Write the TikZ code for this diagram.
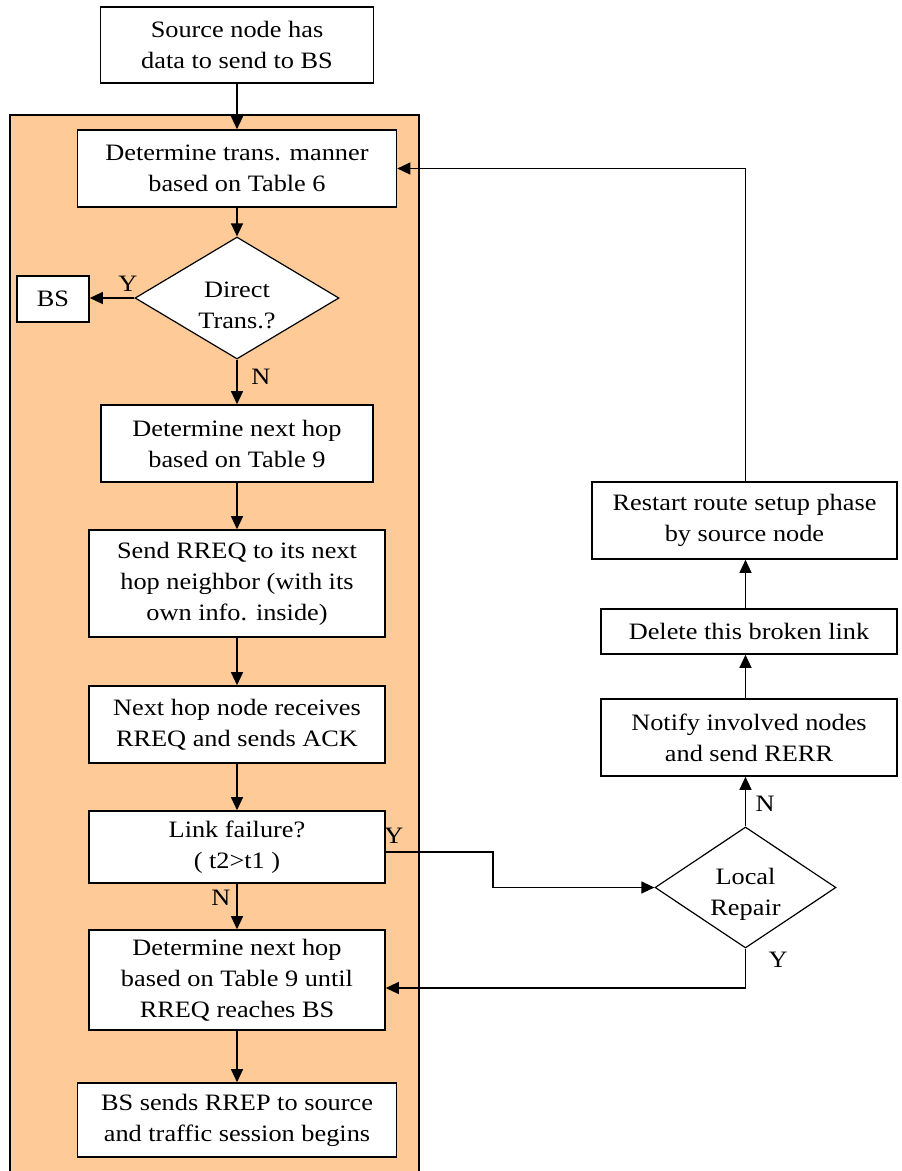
\documentclass[tikz,border=0pt]{standalone}
\usepackage{fontspec}
\setmainfont{Liberation Serif}[FakeStretch=1.12]
\usetikzlibrary{shapes.geometric,arrows.meta,calc}
\definecolor{peach}{RGB}{253,202,152}
\begin{document}
\begin{tikzpicture}[x=1pt,y=-1pt,
  every node/.style={font=\fontsize{23.5}{31}\selectfont},
  box/.style={draw, line width=1.6pt, fill=white, align=center, inner sep=0pt},
  dec/.style={draw, diamond, line width=1.2pt, fill=white, inner sep=0pt, shape aspect=1.67},
  dectext/.style={align=center, yshift=-7pt},
  flow/.style={line width=1.3pt, -{Triangle[length=13pt,width=12pt]}},
  lbl/.style={inner sep=0pt}]
\useasboundingbox (0,0) rectangle (902,1171);

% shaded frame around the route setup procedure
\fill[peach] (10,115) rectangle (419,1171);
\draw[line width=1.6pt] (10,1171) -- (10,115) -- (419,115) -- (419,1171);

% left column
\node[box, minimum width=273pt, minimum height=76pt] (src) at (237,45) {Source node has\\data to send to BS};
\node[box, minimum width=319pt, minimum height=77pt] (b1) at (237,168.5) {Determine trans. manner\\based on Table 6};
\node[dec, minimum width=204pt, minimum height=122pt,
      label={[dectext]center:Direct\\Trans.?}] (dt) at (237,298) {};
\node[box, minimum width=72pt, minimum height=46pt] (bs) at (53,299) {BS};
\node[box, minimum width=272pt, minimum height=77pt] (b2) at (237,443.5) {Determine next hop\\based on Table 9};
\node[box, minimum width=296pt, minimum height=107pt] (b3) at (237,583.5) {Send RREQ to its next\\hop neighbor (with its\\own info. inside)};
\node[box, minimum width=296pt, minimum height=77pt] (b4) at (237,724.5) {Next hop node receives\\RREQ and sends ACK};
\node[box, minimum width=296pt, minimum height=72pt] (b5) at (237,847) {Link failure?\\( t2>t1 )};
\node[box, minimum width=296pt, minimum height=100pt] (b6) at (237,980) {Determine next hop\\based on Table 9 until\\RREQ reaches BS};
\node[box, minimum width=319pt, minimum height=74pt] (b7) at (237,1120) {BS sends RREP to source\\and traffic session begins};

% right column
\node[box, minimum width=305pt, minimum height=77pt] (rs) at (744.5,520.5) {Restart route setup phase\\by source node};
\node[box, minimum width=296pt, minimum height=45pt] (del) at (749,631.5) {Delete this broken link};
\node[box, minimum width=296pt, minimum height=77pt] (nt) at (749,737.5) {Notify involved nodes\\and send RERR};
\node[dec, minimum width=181pt, minimum height=121pt,
      label={[dectext]center:Local\\Repair}] (lr) at (745.5,887.5) {};

% connectors
\draw[flow] (src) -- (b1);
\draw[flow] (b1) -- (dt);
\draw[flow] (dt.west) -- (dt.west -| bs.east);
\draw[flow] (dt) -- (b2);
\draw[flow] (b2) -- (b3);
\draw[flow] (b3) -- (b4);
\draw[flow] (b4) -- (b5);
\draw[flow] (b5) -- (b6);
\draw[flow] (b6) -- (b7);

\coordinate (jog) at (493,870);
\draw[flow] ([yshift=-5pt]b5.east) -| (jog) |- (lr.west);
\draw[flow] (lr.south) |- ([yshift=-8pt]b6.east);
\draw[flow] (lr.north) -- (lr.north |- nt.south);
\draw[flow] (nt.north -| lr.north) -- (del.south -| lr.north);
\draw[flow] (del.north -| lr.north) -- (rs.south -| lr.north);
\draw[flow] (rs.north -| lr.north) |- (b1.east);

% branch labels
\node[lbl] (ly1) at (128,284) {Y};
\node[lbl] (ln1) at (261,377) {N};
\node[lbl] (ly2) at (394,836) {Y};
\node[lbl] (ln2) at (221,898) {N};
\node[lbl] (ln3) at (765,804) {N};
\node[lbl] (ly3) at (778,960) {Y};
\end{tikzpicture}
\end{document}
